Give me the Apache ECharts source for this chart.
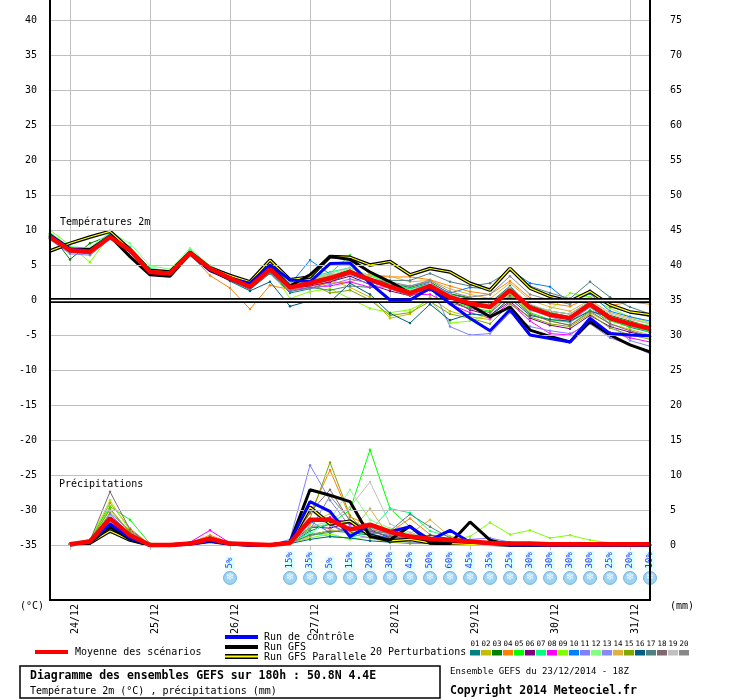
<!DOCTYPE html>
<html lang="fr">
<head>
<meta charset="UTF-8">
<title>Diagramme des ensembles GEFS</title>
<style>
  html, body { margin: 0; padding: 0; background: #fff; }
  #chart { width: 740px; height: 700px; }
</style>
</head>
<body>
<div id="chart"></div>
<script src="https://cdn.jsdelivr.net/npm/echarts@6/dist/echarts.min.js"></script>
<script>
// run 23/12/2014 18Z, one point every 6h up to +180h
const dayLabels = ['24/12', '25/12', '26/12', '27/12', '28/12', '29/12', '30/12', '31/12'];
const tempTicks = [-35, -30, -25, -20, -15, -10, -5, 0, 5, 10, 15, 20, 25, 30, 35, 40];

// temperature 2m (°C)
const tempMean = [9.0, 7.1, 6.9, 9.0, 7.1, 4.0, 3.8, 6.7, 4.5, 3.1, 1.9, 4.4, 1.8, 2.4, 3.1, 4.0, 2.9, 1.9, 1.0, 2.0, 0.4, -0.5, -1.0, 1.4, -1.1, -2.1, -2.6, -0.6, -2.6, -3.4, -4.1];
const tempControl = [9.2, 7.3, 7.0, 9.2, 7.0, 4.0, 3.7, 6.8, 4.3, 3.0, 2.4, 5.0, 2.9, 2.6, 5.2, 5.3, 2.4, 0.0, 0.0, 1.7, -0.5, -2.6, -4.4, -1.4, -5.0, -5.5, -6.0, -2.6, -4.8, -5.0, -5.1];
const tempGfs = [9.3, 7.3, 7.2, 9.1, 6.2, 3.6, 3.4, 6.6, 4.2, 3.0, 2.0, 4.8, 2.0, 3.6, 6.2, 5.8, 4.0, 2.6, 1.0, 1.9, 0.2, -0.7, -2.4, -1.0, -4.3, -5.2, -6.0, -3.1, -5.0, -6.4, -7.4];
const tempGfsPara = [7.0, 8.1, 9.0, 9.8, 7.2, 4.2, 4.0, 6.8, 4.6, 3.5, 2.6, 5.7, 2.9, 3.3, 6.2, 6.1, 5.0, 5.5, 3.6, 4.5, 4.0, 2.4, 1.4, 4.5, 1.7, 0.5, -0.2, 1.2, -0.7, -1.7, -2.1];
const tempMembers = [
  [8.8, 7.0, 6.6, 9.1, 7.0, 4.1, 3.9, 6.6, 4.4, 2.8, 1.5, 3.8, 1.0, 1.6, 2.6, 3.7, 3.1, 2.2, 1.6, 2.4, 0.8, 0.2, -0.4, 2.0, -0.8, -1.8, -2.4, -1.0, -2.8, -3.9, -4.6],
  [9.2, 7.3, 7.2, 8.9, 7.1, 3.9, 3.7, 6.8, 4.6, 3.3, 2.1, 4.6, 2.0, 2.2, 2.9, 1.8, 0.4, -2.6, -2.0, 0.4, -1.6, -2.4, -2.8, 0.6, -2.0, -3.0, -3.6, -1.8, -3.4, -4.2, -5.0],
  [9.5, 5.8, 8.1, 9.2, 7.3, 4.3, 4.0, 7.0, 4.6, 3.2, 2.0, 4.2, 2.2, 2.8, 3.4, 4.3, 3.0, 2.4, 1.8, 2.6, 0.9, 0.3, -0.5, 1.8, -0.7, -1.6, -2.0, -0.2, -2.2, -3.0, -3.8],
  [8.9, 7.0, 6.8, 8.8, 6.9, 3.8, 3.6, 6.5, 3.5, 1.7, -1.3, 2.1, 1.5, 2.0, 2.4, 2.6, 3.4, 3.3, 3.3, 2.9, 2.0, 1.2, 0.8, 2.7, 0.3, -0.5, -0.9, 0.4, -0.8, -0.3, -0.6],
  [9.4, 7.4, 7.1, 9.4, 7.5, 4.4, 4.1, 7.0, 4.8, 3.4, 2.3, 4.8, 2.4, 3.0, 3.8, 6.4, 3.6, 2.6, 1.4, 1.6, -0.2, -1.0, -1.6, 0.8, -1.8, -2.8, -3.2, -1.4, -3.0, -3.8, -4.4],
  [9.0, 7.1, 6.9, 8.9, 7.0, 4.0, 3.8, 6.7, 4.4, 3.0, 1.8, 4.3, 1.7, 2.0, 2.6, 3.4, 2.2, 1.3, 0.6, 1.4, 0.0, -1.4, -2.2, -0.2, -2.6, -3.6, -4.1, -2.2, -3.8, -4.6, -5.2],
  [9.6, 7.6, 7.4, 9.5, 7.6, 4.5, 4.2, 7.2, 4.9, 3.6, 2.6, 4.9, 2.6, 3.2, 4.0, 4.6, 3.4, 2.4, 1.6, 2.2, 0.5, -0.3, -0.7, 1.8, -0.8, -1.8, -2.4, -0.6, -2.6, -3.6, -4.6],
  [9.1, 7.2, 7.0, 9.0, 7.1, 4.1, 3.9, 6.8, 4.5, 3.1, 1.9, 4.4, 1.4, 1.8, 2.0, 2.6, 1.8, 1.9, 0.8, 0.8, -0.6, -1.8, -2.6, -0.4, -3.0, -4.8, -5.0, -3.0, -4.6, -5.4, -6.0],
  [10.0, 7.8, 5.4, 9.3, 7.3, 4.2, 4.0, 6.9, 4.6, 3.3, 2.2, 4.6, 0.2, 1.2, 1.6, 0.2, -1.2, -1.8, -1.4, 0.0, -3.3, -3.0, -2.0, 0.9, -1.6, -1.4, 1.0, 0.4, -1.2, -2.4, -3.2],
  [9.0, 7.0, 6.8, 9.0, 7.0, 3.9, 3.7, 6.6, 4.2, 2.9, 2.4, 4.6, 2.2, 5.7, 3.7, 3.6, 2.6, 1.8, 1.2, 2.3, 1.0, 1.8, 1.6, 4.4, 2.4, 1.9, -0.4, 0.9, -1.6, -2.4, -3.0],
  [8.6, 6.6, 6.4, 8.7, 6.8, 3.7, 3.5, 6.5, 4.3, 3.0, 1.6, 4.0, 1.4, 1.6, 2.2, 3.0, 2.4, 2.2, 2.0, 2.6, -3.8, -5.0, -4.8, -1.8, -3.8, -4.4, -4.8, -3.4, -5.4, -6.4, -7.7],
  [9.3, 7.3, 7.5, 9.7, 8.1, 4.9, 4.4, 7.4, 4.9, 3.5, 2.5, 4.7, 2.3, 2.9, 3.5, 4.5, 3.5, 2.4, 1.4, 2.0, 0.3, -0.4, -1.0, 1.4, -1.2, -2.0, -2.6, -0.8, -2.6, -3.2, -3.6],
  [8.8, 6.9, 6.7, 8.8, 6.9, 3.9, 3.7, 6.6, 4.3, 2.8, 1.7, 4.1, 1.6, 2.2, 2.8, 3.8, 3.0, 2.0, 1.1, 2.2, 0.6, -0.2, -0.8, 1.2, -1.4, -2.4, -3.2, -1.0, -3.4, -5.8, -6.6],
  [9.1, 7.2, 7.0, 9.1, 7.2, 4.1, 3.9, 6.8, 4.6, 3.2, 2.0, 4.5, 2.1, 2.8, 3.6, 3.6, 3.6, 3.4, 2.6, 2.8, 1.6, 0.8, 0.2, 2.4, 0.0, -1.0, -1.6, 0.0, -1.8, -2.6, -3.4],
  [9.2, 7.2, 7.1, 9.2, 7.2, 4.0, 3.8, 6.8, 4.5, 3.1, 1.9, 4.3, 1.9, 2.4, 1.0, 1.4, 0.0, -2.2, -1.8, -0.2, -2.0, -2.6, -3.4, -0.6, -2.4, -3.4, -3.8, -2.0, -4.0, -5.0, -5.6],
  [8.9, 6.9, 6.7, 8.9, 6.9, 3.9, 3.7, 6.5, 4.2, 2.7, 1.3, 2.6, -0.9, -0.1, -0.3, 2.4, 0.8, -1.9, -3.3, -0.6, -2.9, -2.0, -2.2, 0.2, -2.2, -2.8, -3.0, -1.6, -2.4, -3.6, -4.2],
  [9.0, 7.1, 6.9, 9.0, 7.1, 4.0, 3.8, 6.7, 4.5, 3.0, 1.6, 3.9, 1.2, 1.8, 1.4, 2.0, 1.8, 2.8, 2.8, 3.8, 2.6, 2.0, 2.4, 4.2, 2.0, 1.0, 0.2, 2.6, 0.4, -1.0, -2.0],
  [8.7, 6.8, 6.6, 8.8, 7.0, 4.0, 3.8, 6.6, 4.4, 3.0, 1.8, 4.2, 1.7, 2.3, 3.0, 3.9, 2.8, 1.6, 0.6, 1.6, -0.4, -1.2, -1.8, 0.6, -2.0, -3.0, -3.6, -1.6, -3.4, -4.4, -5.2],
  [9.4, 7.4, 7.2, 9.3, 7.3, 4.2, 4.0, 6.9, 4.7, 3.3, 2.2, 4.7, 2.4, 3.0, 3.8, 4.6, 3.2, 2.0, 1.2, 2.4, 0.8, -0.2, -0.6, 1.8, -0.6, -1.6, -2.0, -0.2, -2.0, -2.8, -3.4],
  [9.0, 7.2, 7.0, 9.2, 7.2, 4.1, 3.9, 6.7, 4.5, 3.1, 2.0, 4.4, 1.9, 2.6, 3.4, 4.2, 3.0, 2.6, 2.0, 2.8, 1.2, 0.4, 0.8, 3.4, 0.8, 0.0, -0.6, 1.4, -1.0, -1.8, -2.4]
];

// precipitation per 6h (mm), first step has none
const precMean = [null, 0.1, 0.5, 3.8, 1.4, 0.0, 0.0, 0.2, 0.9, 0.2, 0.1, 0.0, 0.3, 3.6, 3.6, 2.2, 2.9, 1.9, 1.2, 0.9, 0.7, 0.5, 0.3, 0.2, 0.2, 0.1, 0.1, 0.1, 0.1, 0.1, 0.1];
const precControl = [null, 0.1, 0.4, 3.0, 1.0, 0, 0, 0.1, 0.6, 0.1, 0, 0, 0.4, 6.2, 4.8, 1.2, 2.9, 1.9, 2.6, 0.7, 2.1, 0.4, 0.2, 0, 0, 0, 0, 0, 0, 0, 0];
const precGfs = [null, 0.0, 0.3, 2.6, 0.8, 0, 0, 0.1, 0.5, 0.1, 0, 0, 0.4, 7.9, 7.1, 6.2, 1.2, 0.7, 2.7, 0.3, 0.2, 3.3, 0.7, 0, 0, 0, 0, 0, 0, 0, 0];
const precGfsPara = [null, 0.1, 0.3, 2.0, 0.7, 0, 0, 0.2, 0.8, 0.2, 0, 0, 0.3, 5.4, 3.0, 3.4, 1.4, 0.6, 0.8, 0.3, 0.2, 0.1, 0.1, 0, 0, 0, 0, 0, 0, 0, 0];
const precMembers = [
  [null, 0.1, 0.4, 3.0, 1.0, 0, 0, 0.1, 0.8, 0.2, 0, 0, 0.2, 2.0, 3.0, 1.5, 2.0, 1.2, 1.0, 0.6, 0.8, 0.4, 0.2, 0.1, 0, 0, 0, 0, 0, 0, 0],
  [null, 0.1, 0.6, 5.0, 1.8, 0, 0, 0.2, 1.0, 0.2, 0, 0, 0.6, 3.0, 4.5, 1.2, 2.4, 1.4, 0.8, 0.5, 0.3, 0.2, 0.1, 0, 0, 0, 0, 0, 0, 0, 0],
  [null, 0.1, 0.5, 4.0, 1.5, 0, 0, 0.2, 1.2, 0.1, 0, 0, 0.3, 1.5, 2.0, 1.8, 1.4, 0.6, 1.0, 0.4, 0.6, 0.2, 0.1, 0.4, 0.2, 0.1, 0.3, 0.2, 0.1, 0, 0],
  [null, 0.1, 0.5, 6.0, 2.4, 0, 0, 0.3, 1.4, 0.3, 0, 0, 0.5, 4.5, 10.7, 4.0, 2.8, 1.8, 3.8, 1.5, 0.8, 0.3, 0.1, 0, 0, 0, 0, 0, 0, 0, 0],
  [null, 0.2, 0.8, 5.5, 3.6, 0.2, 0, 0.2, 1.0, 0.2, 0, 0, 0.4, 2.4, 3.0, 5.0, 13.6, 5.2, 2.6, 1.0, 0.6, 0.3, 0.2, 0.1, 0, 0, 0, 0, 0, 0, 0],
  [null, 0.1, 0.3, 2.4, 1.0, 0, 0, 0.2, 1.0, 0.2, 0, 0, 0.3, 2.6, 2.4, 3.2, 2.2, 1.0, 1.0, 0.5, 0.2, 0.3, 0.2, 0.1, 0.3, 0.1, 0, 0, 0, 0, 0],
  [null, 0.1, 0.4, 3.2, 1.4, 0, 0, 0.1, 0.8, 0.2, 0, 0, 0.2, 1.8, 1.2, 1.0, 2.0, 5.2, 4.6, 2.0, 1.2, 0.6, 0.2, 0.1, 0, 0, 0, 0, 0, 0, 0],
  [null, 0.1, 0.5, 3.4, 1.2, 0, 0, 0.4, 2.1, 0.3, 0, 0, 0.6, 3.2, 4.0, 3.0, 2.6, 1.6, 0.8, 0.6, 0.4, 0.2, 0.1, 0, 0, 0, 0, 0, 0, 0, 0],
  [null, 0.2, 0.7, 6.4, 2.0, 0.1, 0, 0.2, 1.0, 0.2, 0, 0, 0.3, 1.0, 1.6, 0.8, 1.2, 0.8, 0.4, 0.6, 0.8, 1.2, 3.2, 1.5, 2.1, 1.0, 1.4, 0.7, 0.3, 0.1, 0],
  [null, 0.1, 0.4, 3.6, 1.2, 0, 0, 0.2, 0.8, 0.2, 0, 0, 0.4, 3.4, 1.8, 2.6, 1.6, 1.0, 1.4, 0.8, 0.5, 0.2, 0.1, 0, 0, 0, 0, 0, 0, 0, 0],
  [null, 0.1, 0.5, 4.4, 1.6, 0, 0, 0.2, 1.0, 0.2, 0, 0, 0.8, 11.4, 6.4, 2.6, 1.8, 1.4, 0.8, 0.9, 0.6, 0.8, 1.0, 0.4, 0.2, 0.1, 0, 0, 0, 0, 0],
  [null, 0.1, 0.4, 4.0, 1.4, 0, 0, 0.2, 0.8, 0.1, 0, 0, 0.2, 1.6, 3.6, 7.9, 3.6, 2.4, 1.6, 0.8, 0.4, 0.2, 0.1, 0, 0, 0, 0, 0, 0, 0, 0],
  [null, 0.1, 0.4, 3.2, 1.2, 0, 0, 0.1, 0.7, 0.1, 0, 0, 0.4, 5.0, 2.8, 1.6, 1.0, 0.6, 0.4, 0.3, 0.2, 0.1, 0.1, 0, 0, 0, 0, 0, 0, 0, 0],
  [null, 0.1, 0.3, 1.8, 0.8, 0, 0, 0.2, 0.8, 0.2, 0, 0, 0.3, 1.2, 2.2, 1.8, 5.2, 1.0, 1.6, 3.6, 1.2, 0.6, 0.2, 0.1, 0, 0, 0, 0, 0, 0, 0],
  [null, 0.1, 0.5, 5.2, 1.8, 0, 0, 0.2, 0.9, 0.2, 0, 0, 0.6, 3.8, 11.8, 4.2, 1.0, 0.4, 0.2, 0.2, 0.1, 0.1, 0, 0, 0, 0, 0, 0, 0, 0, 0],
  [null, 0.1, 0.3, 2.2, 0.8, 0, 0, 0.1, 0.6, 0.1, 0, 0, 0.2, 0.8, 1.2, 1.0, 0.6, 0.4, 0.8, 1.4, 0.9, 0.5, 0.2, 0.1, 0, 0, 0, 0, 0, 0, 0],
  [null, 0.1, 0.4, 3.0, 1.2, 0, 0, 0.2, 0.8, 0.3, 0, 0, 0.3, 1.4, 1.8, 2.2, 1.6, 2.0, 4.4, 2.6, 1.0, 0.5, 0.2, 0.1, 0, 0, 0, 0, 0, 0, 0],
  [null, 0.2, 0.6, 7.6, 2.2, 0, 0, 0.2, 1.0, 0.2, 0, 0, 0.5, 4.6, 7.9, 3.4, 2.0, 1.2, 0.8, 0.6, 0.4, 0.2, 0.1, 0, 0, 0, 0, 0, 0, 0, 0],
  [null, 0.1, 0.4, 3.4, 1.4, 0, 0, 0.2, 0.8, 0.2, 0, 0, 0.4, 2.6, 3.4, 5.4, 9.0, 3.0, 1.8, 1.0, 0.6, 0.3, 0.1, 0, 0, 0, 0, 0, 0, 0, 0],
  [null, 0.1, 0.5, 4.6, 2.0, 0, 0, 0.2, 1.0, 0.2, 0, 0, 0.4, 2.2, 7.0, 3.6, 2.2, 1.6, 1.2, 0.8, 0.6, 0.3, 0.2, 0.1, 0, 0, 0, 0, 0, 0, 0]
];

// probability of snow (%) per step
const snowPct = [null, null, null, null, null, null, null, null, null, 5, null, null, 15, 35, 5, 15, 20, 30, 45, 50, 60, 45, 35, 25, 30, 30, 30, 30, 25, 20, 10];

const memberColors = ['#008080', '#c0c000', '#008000', '#ff8000', '#00ff00', '#800080', '#00ff80', '#ff00ff', '#80ff00', '#0080ff',
  '#8080ff', '#80ff80', '#8888f8', '#e0b040', '#80a800', '#006080', '#508080', '#806870', '#c0c0c0', '#888888'];

const MONO = '"DejaVu Sans Mono", monospace';

// x categories: 31 steps, a day label on each 00Z step
const steps = tempMean.map((v, i) => (i - 1) % 4 === 0 ? dayLabels[(i - 1) / 4] : 's' + i);
const isDay = (i) => (i - 1) % 4 === 0;

const chart = echarts.init(document.getElementById('chart'));

const tMax = 40 + 20 / 7;   // top of the box
const tMin = -45;
const snowRow = -39.7;

let series = [];

// grid lines and the double zero line
series.push({
  type: 'line', data: [], xAxisIndex: 0, yAxisIndex: 0, z: 0, silent: true,
  markLine: {
    silent: true, symbol: 'none', animation: false, label: { show: false },
    lineStyle: { color: '#c0c0c0', width: 1, type: 'solid' },
    data: tempTicks.map(t => ({ yAxis: t }))
  }
});
series.push({
  type: 'line', data: [], z: 1, silent: true,
  markLine: {
    silent: true, symbol: 'none', animation: false, label: { show: false },
    lineStyle: { color: '#000', width: 5, type: 'solid' },
    data: [{ yAxis: 0 }]
  }
});
series.push({
  type: 'line', data: [], z: 1, silent: true,
  markLine: {
    silent: true, symbol: 'none', animation: false, label: { show: false },
    lineStyle: { color: '#fff', width: 1.3, type: 'solid' },
    data: [{ yAxis: 0 }]
  }
});

function thin(data, color, axis) {
  return {
    type: 'line', data: data, yAxisIndex: axis, z: 2,
    lineStyle: { color: color, width: 1 },
    itemStyle: { color: color },
    symbol: 'circle', symbolSize: 2.5, showSymbol: true,
    connectNulls: false
  };
}
function thick(data, color, width, axis, z) {
  return {
    type: 'line', data: data, yAxisIndex: axis, z: z,
    lineStyle: { color: color, width: width },
    itemStyle: { color: color },
    showSymbol: false, symbol: 'none'
  };
}

tempMembers.forEach((m, k) => series.push(thin(m, memberColors[k], 0)));
precMembers.forEach((m, k) => series.push(thin(m, memberColors[k], 1)));

[[tempGfsPara, 0], [precGfsPara, 1]].forEach(([d, ax]) => {
  series.push(thick(d, '#000', 3.5, ax, 3));
  series.push(thick(d, '#ffff00', 1.2, ax, 3));
});
[[tempGfs, 0], [precGfs, 1]].forEach(([d, ax]) => series.push(thick(d, '#000', 3, ax, 4)));
[[tempControl, 0], [precControl, 1]].forEach(([d, ax]) => series.push(thick(d, '#0000ff', 3, ax, 5)));
[[tempMean, 0], [precMean, 1]].forEach(([d, ax]) => series.push(thick(d, '#ff0000', 4.5, ax, 6)));

// snow icons and percentages
const snowData = [];
snowPct.forEach((p, i) => { if (p != null) snowData.push([i, snowRow, p]); });
series.push({
  type: 'scatter', data: snowData, z: 7, symbol: 'circle', symbolSize: 13,
  itemStyle: { color: '#86c8ee', borderColor: '#5aa6d8', borderWidth: 1 },
  label: {
    show: true, position: 'inside', formatter: '\u2744',
    color: '#ffffff', fontSize: 10, fontFamily: 'DejaVu Sans'
  }
});
series.push({
  type: 'scatter', data: snowData, z: 7, symbolSize: 1,
  itemStyle: { color: 'rgba(0,0,0,0)' },
  label: {
    show: true, position: 'top', distance: 8, rotate: 90,
    align: 'left', verticalAlign: 'middle',
    formatter: (p) => p.value[2] + '%',
    color: '#0000ff', fontSize: 9, fontFamily: MONO,
    backgroundColor: '#ccffff', padding: [0, 1, 0, 1]
  }
});

const txt = (text, x, y, size, opts) => Object.assign({
  type: 'text', x: x, y: y, z: 100,
  style: Object.assign({
    text: text, fill: '#000', fontSize: size, fontFamily: MONO,
    verticalAlign: 'middle', align: 'left'
  }, opts || {})
});

const graphic = [
  { type: 'rect', z: 100, shape: { x: 50, y: -2, width: 600, height: 602 },
    style: { fill: 'none', stroke: '#000', lineWidth: 2 } },
  txt('Températures 2m', 60, 222, 10),
  txt('Précipitations', 59, 484, 10),
  txt('(°C)', 20, 606, 10),
  txt('(mm)', 670, 606, 10),
  { type: 'rect', z: 100, shape: { x: 35, y: 650, width: 33, height: 4 }, style: { fill: '#ff0000' } },
  txt('Moyenne des scénarios', 75, 652, 10),
  { type: 'rect', z: 100, shape: { x: 225, y: 635, width: 33, height: 4 }, style: { fill: '#0000ff' } },
  txt('Run de contrôle', 264, 637, 10),
  { type: 'rect', z: 100, shape: { x: 225, y: 645, width: 33, height: 4 }, style: { fill: '#000' } },
  txt('Run GFS', 264, 647, 10),
  { type: 'rect', z: 100, shape: { x: 225, y: 654, width: 33, height: 5 }, style: { fill: '#000' } },
  { type: 'rect', z: 101, shape: { x: 225, y: 655.5, width: 33, height: 2 }, style: { fill: '#ffff00' } },
  txt('Run GFS Parallele', 264, 657, 10),
  txt('20 Perturbations', 370, 652, 10),
  { type: 'rect', z: 100, shape: { x: 20, y: 666, width: 420, height: 32 },
    style: { fill: 'none', stroke: '#000', lineWidth: 1.5 } },
  txt('Diagramme des ensembles GEFS sur 180h : 50.8N 4.4E', 30, 676, 11.5, { fontWeight: 'bold' }),
  txt('Température 2m (°C) , précipitations (mm)', 30, 691, 10),
  txt('Ensemble GEFS du 23/12/2014 - 18Z', 450, 672, 9),
  txt('Copyright 2014 Meteociel.fr', 450, 691, 11.5, { fontWeight: 'bold' })
];
memberColors.forEach((c, k) => {
  const x0 = 470 + k * 11;
  graphic.push(txt(String(k + 1).padStart(2, '0'), x0 + 5, 644, 7.5, { align: 'center' }));
  graphic.push({ type: 'rect', z: 100, shape: { x: x0, y: 650, width: 10, height: 5.5 }, style: { fill: c } });
});

const option = {
  animation: false,
  backgroundColor: '#ffffff',
  grid: { left: 50, right: 90, top: 0, height: (tMax - tMin) * 7 },
  xAxis: [
    {
      type: 'category', data: steps, boundaryGap: false, offset: -15,
      axisLine: { show: false },
      axisTick: { show: true, inside: true, length: 600, interval: isDay, lineStyle: { color: '#c0c0c0' } },
      axisLabel: {
        interval: isDay, rotate: 90, margin: 4, verticalAlign: 'top',
        formatter: (v) => v.charAt(0) === 's' ? '' : v,
        color: '#000', fontSize: 10, fontFamily: MONO
      },
      splitLine: { show: false }
    },
    {
      type: 'category', data: steps, boundaryGap: false, offset: -15, position: 'bottom',
      axisLine: { show: false },
      axisTick: { show: true, inside: false, length: 5, interval: isDay, lineStyle: { color: '#c0c0c0' } },
      axisLabel: { show: false },
      splitLine: { show: false }
    }
  ],
  yAxis: [
    {
      type: 'value', min: tMin, max: tMax, interval: 5, position: 'left',
      axisLine: { show: false }, axisTick: { show: false }, splitLine: { show: false },
      axisLabel: {
        margin: 13, color: '#000', fontSize: 10, fontFamily: MONO,
        formatter: (v) => (v >= -35 && v <= 40 && Number.isInteger(v)) ? String(v) : ''
      }
    },
    {
      type: 'value', min: tMin + 35, max: tMax + 35, interval: 5, position: 'right',
      axisLine: { show: false }, axisTick: { show: false }, splitLine: { show: false },
      axisLabel: {
        margin: 20, color: '#000', fontSize: 10, fontFamily: MONO,
        formatter: (v) => (v >= 0 && v <= 75 && Number.isInteger(v)) ? String(v) : ''
      }
    }
  ],
  series: series,
  graphic: graphic
};

chart.setOption(option);
</script>
</body>
</html>
